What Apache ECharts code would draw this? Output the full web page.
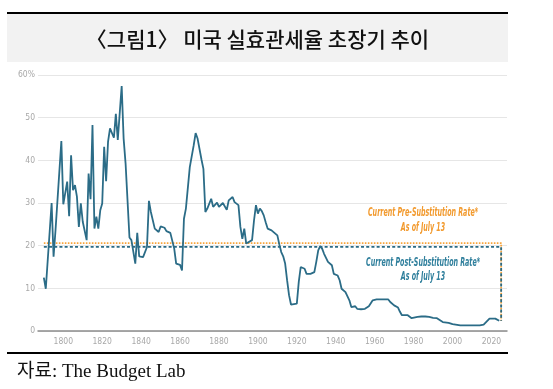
<!DOCTYPE html>
<html><head><meta charset="utf-8">
<style>html,body{margin:0;padding:0;background:#fff}#c{width:553px;height:389px}</style>
<script src="https://cdn.jsdelivr.net/npm/echarts@6/dist/echarts.min.js"></script>
</head><body><div id="c"></div>
<script>
const years = [1790,1791,1794,1795,1796,1797,1799,1800,1801,1802,1803,1804,1805,1806,1807,1808,1809,1810,1812,1813,1814,1815,1816,1817,1818,1819,1820,1821,1822,1823,1824,1825,1826,1827,1828,1830,1831,1832,1834,1835,1837,1838,1839,1841,1843,1844,1845,1847,1849,1850,1852,1853,1855,1857,1858,1860,1861,1862,1863,1865,1867,1868,1869,1870,1871,1872,1873,1874,1876,1877,1879,1880,1882,1883,1884,1885,1886,1887,1888,1890,1891,1892,1893,1894,1895,1897,1898,1899,1900,1901,1902,1903,1904,1905,1906,1907,1908,1910,1911,1912,1913,1914,1915,1916,1917,1918,1920,1921,1922,1923,1924,1925,1926,1927,1929,1930,1931,1932,1933,1934,1936,1938,1939,1941,1942,1943,1945,1946,1947,1948,1950,1951,1953,1955,1957,1959,1961,1962,1964,1965,1967,1968,1970,1972,1973,1974,1975,1977,1979,1980,1982,1984,1986,1988,1990,1992,1993,1995,1998,2000,2004,2007,2010,2014,2016,2017,2019,2020,2022,2023,2024];
const rates = [12.5,9.9,30.0,17.4,23.6,24.0,44.5,29.7,29.7,35.0,26.9,41.2,33.0,34.2,31.5,24.4,29.9,25.6,21.3,36.9,30.9,48.3,24.0,26.8,24.0,28.3,29.9,43.2,35.1,44.4,47.5,47.7,45.3,50.9,44.8,57.4,45.1,39.3,21.9,21.3,15.8,23.0,17.5,17.3,19.7,30.5,27.9,24.0,23.2,24.5,24.2,23.4,23.0,19.3,15.8,15.5,14.2,26.3,28.7,38.4,43.5,46.4,45.1,44.8,40.2,38.0,27.9,28.7,31.0,29.1,30.1,29.1,30.0,30.2,28.4,30.6,30.5,31.4,30.2,29.5,24.4,21.6,24.0,20.5,20.3,21.3,25.9,29.5,27.5,28.7,28.1,27.1,25.5,24.0,24.1,23.6,23.6,22.4,20.3,18.5,17.5,15.8,11.9,8.4,6.2,5.9,6.4,11.5,15.0,15.2,14.6,13.4,13.8,13.4,13.8,16.2,18.9,19.9,19.3,18.1,16.2,15.4,13.4,13.0,11.9,9.9,9.1,9.5,7.2,5.6,5.8,5.2,5.1,5.2,5.8,7.2,7.4,7.3,7.4,7.7,7.4,6.8,6.0,5.5,4.5,3.7,3.7,3.7,3.0,3.3,3.3,3.4,3.4,3.3,3.1,3.0,2.7,2.1,1.9,1.6,1.3,1.3,1.3,1.3,1.5,1.7,2.9,3.1,2.9,2.5,2.4];
const xTicks = [1800,1820,1840,1860,1880,1900,1920,1940,1960,1980,2000,2020];
const yTicks = [0,10,20,30,40,50,60];
const preRate = 20.6;
const postRate = 19.7;
const refStartYear = 1790;
const refEndYear = 2025;
const lastRate = rates[rates.length - 1];

const titleText = '〈그림1〉 미국 실효관세율 초장기 추이';
const sourceText = '자료: The Budget Lab';
const preLabel = ['Current Pre-Substitution Rate*', 'As of July 13'];
const postLabel = ['Current Post-Substitution Rate*', 'As of July 13'];

const annFont = 'italic bold 12px "Liberation Sans Narrow", "DejaVu Sans Condensed", Roboto, sans-serif';
function fitScale(text, target) {
  const ctx = document.createElement('canvas').getContext('2d');
  ctx.font = annFont;
  return target / ctx.measureText(text).width;
}
const annScale = fitScale(postLabel[0], 114);

function annText(x, y, text, color) {
  return { type: 'text', x: x, y: y, scaleX: annScale, z: 10,
    style: { x: 0, y: 0, text: text, fill: color, font: annFont, align: 'center', verticalAlign: 'middle' } };
}

const chart = echarts.init(document.getElementById('c'), null, { renderer: 'canvas' });
const axisFont = '"Liberation Sans Narrow", "DejaVu Sans Condensed", Roboto, sans-serif';
chart.setOption({
  animation: false,
  backgroundColor: '#ffffff',
  grid: { left: 38, right: 46, top: 75, bottom: 58 },
  xAxis: {
    type: 'value', min: 1787, max: 2028,
    axisLine: { show: true, lineStyle: { color: '#8c8c8c', width: 1.5 } },
    axisTick: { show: false },
    splitLine: { show: false },
    axisLabel: { customValues: xTicks, color: '#a8a8a8', fontSize: 8.5, fontFamily: axisFont, margin: 6,
      formatter: v => String(v) }
  },
  yAxis: {
    type: 'value', min: 0, max: 60, interval: 10,
    axisLine: { show: false }, axisTick: { show: false },
    splitLine: { lineStyle: { color: '#e6e6e6', width: 1 } },
    axisLabel: { color: '#a8a8a8', fontSize: 8.5, fontFamily: axisFont, margin: 3,
      formatter: v => v === 60 ? v + '%' : String(v) }
  },
  series: [
    { type: 'line', name: 'pre', showSymbol: false, silent: true, z: 2,
      data: [[refStartYear, preRate], [refEndYear, preRate], [refEndYear, lastRate]],
      lineStyle: { color: '#f7a43c', width: 1.8, type: [1.6, 1.4] } },
    { type: 'line', name: 'post', showSymbol: false, silent: true, z: 3,
      data: [[refStartYear, postRate], [refEndYear, postRate], [refEndYear, lastRate]],
      lineStyle: { color: '#2a6a84', width: 1.8, type: [3, 2.2] } },
    { type: 'line', name: 'tariff', showSymbol: false, z: 4,
      data: years.map((y, i) => [y, rates[i]]),
      lineStyle: { color: '#2b6c87', width: 1.8 } }
  ],
  graphic: [
    { type: 'rect', shape: { x: 7, y: 14, width: 501, height: 48 }, style: { fill: '#f2f2f2' }, z: 0 },
    { type: 'rect', shape: { x: 7, y: 12, width: 501, height: 2 }, style: { fill: '#000' }, z: 1 },
    { type: 'text', z: 5, style: { x: 257.5, y: 39, text: titleText, fill: '#111',
      font: '500 21px "Noto Sans CJK KR", sans-serif', align: 'center', verticalAlign: 'middle' } },
    { type: 'rect', shape: { x: 7, y: 352, width: 501, height: 2 }, style: { fill: '#000' }, z: 1 },
    { type: 'text', z: 5, style: { x: 17, y: 372, text: sourceText, fill: '#111',
      font: '19px "Liberation Serif", "Noto Sans CJK KR", serif', align: 'left', verticalAlign: 'middle' } },
    annText(423, 213, preLabel[0], '#f29a2e'),
    annText(423, 228, preLabel[1], '#f29a2e'),
    annText(423, 263, postLabel[0], '#2f7f9c'),
    annText(423, 277, postLabel[1], '#2f7f9c')
  ]
});
</script>
</body></html>
